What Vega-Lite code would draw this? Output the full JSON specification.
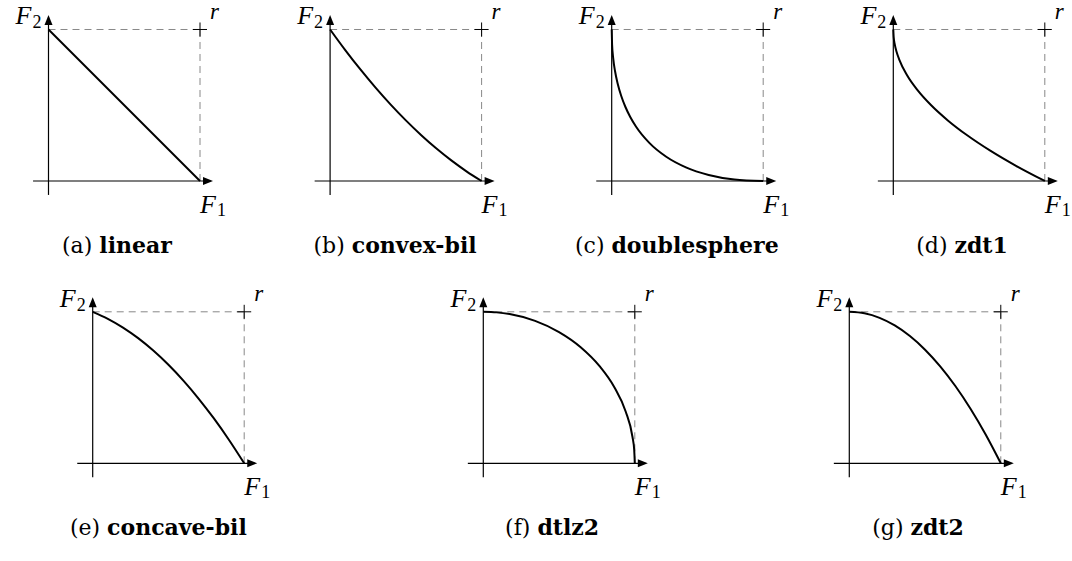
{
  "$schema": "https://vega.github.io/schema/vega-lite/v6.json",
  "padding": 0,
  "background": "white",
  "spacing": 0,
  "config": {
    "view": {"stroke": null},
    "mark": {"color": "#000000"},
    "text": {"font": "Liberation Serif", "fontSize": 26, "fontStyle": "italic", "baseline": "alphabetic", "color": "#000000"},
    "rule": {"strokeWidth": 1.2, "color": "#000000"},
    "point": {"opacity": 1}
  },
  "datasets": {
    "linear": [{"F1": 0, "F2": 1}, {"F1": 1, "F2": 0}],
    "convexbil": [{"F1": 0, "F2": 1}, {"F1": 0.1, "F2": 0.864}, {"F1": 0.2, "F2": 0.736}, {"F1": 0.3, "F2": 0.616}, {"F1": 0.4, "F2": 0.504}, {"F1": 0.5, "F2": 0.4}, {"F1": 0.6, "F2": 0.304}, {"F1": 0.7, "F2": 0.216}, {"F1": 0.8, "F2": 0.136}, {"F1": 0.9, "F2": 0.064}, {"F1": 1, "F2": 0}],
    "doublesphere": [{"F1": 0, "F2": 1}, {"F1": 0.0025, "F2": 0.9025}, {"F1": 0.01, "F2": 0.81}, {"F1": 0.0225, "F2": 0.7225}, {"F1": 0.04, "F2": 0.64}, {"F1": 0.0625, "F2": 0.5625}, {"F1": 0.09, "F2": 0.49}, {"F1": 0.1225, "F2": 0.4225}, {"F1": 0.16, "F2": 0.36}, {"F1": 0.25, "F2": 0.25}, {"F1": 0.36, "F2": 0.16}, {"F1": 0.49, "F2": 0.09}, {"F1": 0.64, "F2": 0.04}, {"F1": 0.81, "F2": 0.01}, {"F1": 1, "F2": 0}],
    "zdt1": [{"F1": 0, "F2": 1}, {"F1": 0.0025, "F2": 0.95}, {"F1": 0.01, "F2": 0.9}, {"F1": 0.0225, "F2": 0.85}, {"F1": 0.04, "F2": 0.8}, {"F1": 0.09, "F2": 0.7}, {"F1": 0.16, "F2": 0.6}, {"F1": 0.25, "F2": 0.5}, {"F1": 0.36, "F2": 0.4}, {"F1": 0.49, "F2": 0.3}, {"F1": 0.64, "F2": 0.2}, {"F1": 0.81, "F2": 0.1}, {"F1": 1, "F2": 0}],
    "concavebil": [{"F1": 0, "F2": 1}, {"F1": 0.1, "F2": 0.954}, {"F1": 0.2, "F2": 0.896}, {"F1": 0.3, "F2": 0.826}, {"F1": 0.4, "F2": 0.744}, {"F1": 0.5, "F2": 0.65}, {"F1": 0.6, "F2": 0.544}, {"F1": 0.7, "F2": 0.426}, {"F1": 0.8, "F2": 0.296}, {"F1": 0.9, "F2": 0.154}, {"F1": 1, "F2": 0}],
    "dtlz2": [{"F1": 0, "F2": 1}, {"F1": 0.0872, "F2": 0.9962}, {"F1": 0.1736, "F2": 0.9848}, {"F1": 0.342, "F2": 0.9397}, {"F1": 0.5, "F2": 0.866}, {"F1": 0.6428, "F2": 0.766}, {"F1": 0.766, "F2": 0.6428}, {"F1": 0.866, "F2": 0.5}, {"F1": 0.9397, "F2": 0.342}, {"F1": 0.9848, "F2": 0.1736}, {"F1": 0.9962, "F2": 0.0872}, {"F1": 1, "F2": 0}],
    "zdt2": [{"F1": 0, "F2": 1}, {"F1": 0.1, "F2": 0.99}, {"F1": 0.2, "F2": 0.96}, {"F1": 0.3, "F2": 0.91}, {"F1": 0.4, "F2": 0.84}, {"F1": 0.5, "F2": 0.75}, {"F1": 0.6, "F2": 0.64}, {"F1": 0.7, "F2": 0.51}, {"F1": 0.8, "F2": 0.36}, {"F1": 0.9, "F2": 0.19}, {"F1": 1, "F2": 0}]
  },
  "vconcat": [
    {
      "spacing": 59.6,
      "bounds": "flush",
      "hconcat": [
        {
          "width": 222, "height": 280,
          "data": {"values": [{}]},
          "layer": [
            {"mark": {"type": "rule", "stroke": "#888888", "strokeWidth": 1, "strokeDash": [7, 5]}, "encoding": {"x": {"datum": 0, "type": "quantitative", "scale": {"domain": [-0.3201, 1.1452], "nice": false, "zero": false}, "axis": null}, "x2": {"datum": 1}, "y": {"datum": 1, "type": "quantitative", "scale": {"domain": [-0.6535, 1.1947], "nice": false, "zero": false}, "axis": null}}},
            {"mark": {"type": "rule", "stroke": "#888888", "strokeWidth": 1, "strokeDash": [7, 5]}, "encoding": {"x": {"datum": 1}, "y": {"datum": 0}, "y2": {"datum": 1}}},
            {"mark": {"type": "rule"}, "encoding": {"x": {"datum": -0.102}, "x2": {"datum": 1.07}, "y": {"datum": 0}}},
            {"mark": {"type": "rule"}, "encoding": {"x": {"datum": 0}, "y": {"datum": -0.092}, "y2": {"datum": 1.08}}},
            {"data": {"name": "linear"}, "mark": {"type": "line", "stroke": "#000000", "strokeWidth": 2, "interpolate": "monotone"}, "encoding": {"x": {"field": "F1", "type": "quantitative"}, "y": {"field": "F2", "type": "quantitative"}}},
            {"mark": {"type": "point", "shape": "M0,0L-2,-0.8L-2,0.8Z", "size": 100, "filled": true, "fill": "#000000", "strokeWidth": 0, "opacity": 1}, "encoding": {"x": {"datum": 1.086}, "y": {"datum": 0}}},
            {"mark": {"type": "point", "shape": "M0,0L-0.8,2L0.8,2Z", "size": 100, "filled": true, "fill": "#000000", "strokeWidth": 0, "opacity": 1}, "encoding": {"x": {"datum": 0}, "y": {"datum": 1.096}}},
            {"mark": {"type": "point", "shape": "M-1,0L1,0M0,-1L0,1", "size": 196, "filled": false, "stroke": "#000000", "strokeWidth": 1, "opacity": 1}, "encoding": {"x": {"datum": 1}, "y": {"datum": 1}}},
            {"mark": {"type": "text", "text": "F", "align": "right", "dx": -17, "dy": -5}, "encoding": {"x": {"datum": 0}, "y": {"datum": 1}}},
            {"mark": {"type": "text", "text": "2", "fontStyle": "normal", "fontSize": 18, "align": "left", "dx": -16, "dy": -1}, "encoding": {"x": {"datum": 0}, "y": {"datum": 1}}},
            {"mark": {"type": "text", "text": "F", "align": "left", "dx": 0, "dy": 32}, "encoding": {"x": {"datum": 1}, "y": {"datum": 0}}},
            {"mark": {"type": "text", "text": "1", "fontStyle": "normal", "fontSize": 18, "align": "left", "dx": 17, "dy": 35}, "encoding": {"x": {"datum": 1}, "y": {"datum": 0}}},
            {"mark": {"type": "text", "text": "r", "fontSize": 23, "align": "left", "dx": 10, "dy": -10.5}, "encoding": {"x": {"datum": 1}, "y": {"datum": 1}}},
            {"mark": {"type": "text", "text": "(a)", "font": "DejaVu Serif", "fontSize": 22, "fontStyle": "normal", "align": "right", "dx": -26.2}, "encoding": {"x": {"datum": 0.462}, "y": {"datum": -0.475}}},
            {"mark": {"type": "text", "text": "linear", "font": "DejaVu Serif", "fontSize": 22, "fontStyle": "normal", "fontWeight": "bold", "align": "left", "dx": -19.2}, "encoding": {"x": {"datum": 0.462}, "y": {"datum": -0.475}}}
          ]
        },
        {
          "width": 222, "height": 280,
          "data": {"values": [{}]},
          "layer": [
            {"mark": {"type": "rule", "stroke": "#888888", "strokeWidth": 1, "strokeDash": [7, 5]}, "encoding": {"x": {"datum": 0, "type": "quantitative", "scale": {"domain": [-0.3201, 1.1452], "nice": false, "zero": false}, "axis": null}, "x2": {"datum": 1}, "y": {"datum": 1, "type": "quantitative", "scale": {"domain": [-0.6535, 1.1947], "nice": false, "zero": false}, "axis": null}}},
            {"mark": {"type": "rule", "stroke": "#888888", "strokeWidth": 1, "strokeDash": [7, 5]}, "encoding": {"x": {"datum": 1}, "y": {"datum": 0}, "y2": {"datum": 1}}},
            {"mark": {"type": "rule"}, "encoding": {"x": {"datum": -0.102}, "x2": {"datum": 1.07}, "y": {"datum": 0}}},
            {"mark": {"type": "rule"}, "encoding": {"x": {"datum": 0}, "y": {"datum": -0.092}, "y2": {"datum": 1.08}}},
            {"data": {"name": "convexbil"}, "mark": {"type": "line", "stroke": "#000000", "strokeWidth": 2, "interpolate": "monotone"}, "encoding": {"x": {"field": "F1", "type": "quantitative"}, "y": {"field": "F2", "type": "quantitative"}}},
            {"mark": {"type": "point", "shape": "M0,0L-2,-0.8L-2,0.8Z", "size": 100, "filled": true, "fill": "#000000", "strokeWidth": 0, "opacity": 1}, "encoding": {"x": {"datum": 1.086}, "y": {"datum": 0}}},
            {"mark": {"type": "point", "shape": "M0,0L-0.8,2L0.8,2Z", "size": 100, "filled": true, "fill": "#000000", "strokeWidth": 0, "opacity": 1}, "encoding": {"x": {"datum": 0}, "y": {"datum": 1.096}}},
            {"mark": {"type": "point", "shape": "M-1,0L1,0M0,-1L0,1", "size": 196, "filled": false, "stroke": "#000000", "strokeWidth": 1, "opacity": 1}, "encoding": {"x": {"datum": 1}, "y": {"datum": 1}}},
            {"mark": {"type": "text", "text": "F", "align": "right", "dx": -17, "dy": -5}, "encoding": {"x": {"datum": 0}, "y": {"datum": 1}}},
            {"mark": {"type": "text", "text": "2", "fontStyle": "normal", "fontSize": 18, "align": "left", "dx": -16, "dy": -1}, "encoding": {"x": {"datum": 0}, "y": {"datum": 1}}},
            {"mark": {"type": "text", "text": "F", "align": "left", "dx": 0, "dy": 32}, "encoding": {"x": {"datum": 1}, "y": {"datum": 0}}},
            {"mark": {"type": "text", "text": "1", "fontStyle": "normal", "fontSize": 18, "align": "left", "dx": 17, "dy": 35}, "encoding": {"x": {"datum": 1}, "y": {"datum": 0}}},
            {"mark": {"type": "text", "text": "r", "fontSize": 23, "align": "left", "dx": 10, "dy": -10.5}, "encoding": {"x": {"datum": 1}, "y": {"datum": 1}}},
            {"mark": {"type": "text", "text": "(b)", "font": "DejaVu Serif", "fontSize": 22, "fontStyle": "normal", "align": "right", "dx": -55.3}, "encoding": {"x": {"datum": 0.462}, "y": {"datum": -0.475}}},
            {"mark": {"type": "text", "text": "convex-bil", "font": "DejaVu Serif", "fontSize": 22, "fontStyle": "normal", "fontWeight": "bold", "align": "left", "dx": -48.3}, "encoding": {"x": {"datum": 0.462}, "y": {"datum": -0.475}}}
          ]
        },
        {
          "width": 222, "height": 280,
          "data": {"values": [{}]},
          "layer": [
            {"mark": {"type": "rule", "stroke": "#888888", "strokeWidth": 1, "strokeDash": [7, 5]}, "encoding": {"x": {"datum": 0, "type": "quantitative", "scale": {"domain": [-0.3201, 1.1452], "nice": false, "zero": false}, "axis": null}, "x2": {"datum": 1}, "y": {"datum": 1, "type": "quantitative", "scale": {"domain": [-0.6535, 1.1947], "nice": false, "zero": false}, "axis": null}}},
            {"mark": {"type": "rule", "stroke": "#888888", "strokeWidth": 1, "strokeDash": [7, 5]}, "encoding": {"x": {"datum": 1}, "y": {"datum": 0}, "y2": {"datum": 1}}},
            {"mark": {"type": "rule"}, "encoding": {"x": {"datum": -0.102}, "x2": {"datum": 1.07}, "y": {"datum": 0}}},
            {"mark": {"type": "rule"}, "encoding": {"x": {"datum": 0}, "y": {"datum": -0.092}, "y2": {"datum": 1.08}}},
            {"data": {"name": "doublesphere"}, "mark": {"type": "line", "stroke": "#000000", "strokeWidth": 2, "interpolate": "monotone"}, "encoding": {"x": {"field": "F1", "type": "quantitative"}, "y": {"field": "F2", "type": "quantitative"}}},
            {"mark": {"type": "point", "shape": "M0,0L-2,-0.8L-2,0.8Z", "size": 100, "filled": true, "fill": "#000000", "strokeWidth": 0, "opacity": 1}, "encoding": {"x": {"datum": 1.086}, "y": {"datum": 0}}},
            {"mark": {"type": "point", "shape": "M0,0L-0.8,2L0.8,2Z", "size": 100, "filled": true, "fill": "#000000", "strokeWidth": 0, "opacity": 1}, "encoding": {"x": {"datum": 0}, "y": {"datum": 1.096}}},
            {"mark": {"type": "point", "shape": "M-1,0L1,0M0,-1L0,1", "size": 196, "filled": false, "stroke": "#000000", "strokeWidth": 1, "opacity": 1}, "encoding": {"x": {"datum": 1}, "y": {"datum": 1}}},
            {"mark": {"type": "text", "text": "F", "align": "right", "dx": -17, "dy": -5}, "encoding": {"x": {"datum": 0}, "y": {"datum": 1}}},
            {"mark": {"type": "text", "text": "2", "fontStyle": "normal", "fontSize": 18, "align": "left", "dx": -16, "dy": -1}, "encoding": {"x": {"datum": 0}, "y": {"datum": 1}}},
            {"mark": {"type": "text", "text": "F", "align": "left", "dx": 0, "dy": 32}, "encoding": {"x": {"datum": 1}, "y": {"datum": 0}}},
            {"mark": {"type": "text", "text": "1", "fontStyle": "normal", "fontSize": 18, "align": "left", "dx": 17, "dy": 35}, "encoding": {"x": {"datum": 1}, "y": {"datum": 0}}},
            {"mark": {"type": "text", "text": "r", "fontSize": 23, "align": "left", "dx": 10, "dy": -10.5}, "encoding": {"x": {"datum": 1}, "y": {"datum": 1}}},
            {"mark": {"type": "text", "text": "(c)", "font": "DejaVu Serif", "fontSize": 22, "fontStyle": "normal", "align": "right", "dx": -77.2}, "encoding": {"x": {"datum": 0.462}, "y": {"datum": -0.475}}},
            {"mark": {"type": "text", "text": "doublesphere", "font": "DejaVu Serif", "fontSize": 22, "fontStyle": "normal", "fontWeight": "bold", "align": "left", "dx": -70.2}, "encoding": {"x": {"datum": 0.462}, "y": {"datum": -0.475}}}
          ]
        },
        {
          "width": 222, "height": 280,
          "data": {"values": [{}]},
          "layer": [
            {"mark": {"type": "rule", "stroke": "#888888", "strokeWidth": 1, "strokeDash": [7, 5]}, "encoding": {"x": {"datum": 0, "type": "quantitative", "scale": {"domain": [-0.3201, 1.1452], "nice": false, "zero": false}, "axis": null}, "x2": {"datum": 1}, "y": {"datum": 1, "type": "quantitative", "scale": {"domain": [-0.6535, 1.1947], "nice": false, "zero": false}, "axis": null}}},
            {"mark": {"type": "rule", "stroke": "#888888", "strokeWidth": 1, "strokeDash": [7, 5]}, "encoding": {"x": {"datum": 1}, "y": {"datum": 0}, "y2": {"datum": 1}}},
            {"mark": {"type": "rule"}, "encoding": {"x": {"datum": -0.102}, "x2": {"datum": 1.07}, "y": {"datum": 0}}},
            {"mark": {"type": "rule"}, "encoding": {"x": {"datum": 0}, "y": {"datum": -0.092}, "y2": {"datum": 1.08}}},
            {"data": {"name": "zdt1"}, "mark": {"type": "line", "stroke": "#000000", "strokeWidth": 2, "interpolate": "monotone"}, "encoding": {"x": {"field": "F1", "type": "quantitative"}, "y": {"field": "F2", "type": "quantitative"}}},
            {"mark": {"type": "point", "shape": "M0,0L-2,-0.8L-2,0.8Z", "size": 100, "filled": true, "fill": "#000000", "strokeWidth": 0, "opacity": 1}, "encoding": {"x": {"datum": 1.086}, "y": {"datum": 0}}},
            {"mark": {"type": "point", "shape": "M0,0L-0.8,2L0.8,2Z", "size": 100, "filled": true, "fill": "#000000", "strokeWidth": 0, "opacity": 1}, "encoding": {"x": {"datum": 0}, "y": {"datum": 1.096}}},
            {"mark": {"type": "point", "shape": "M-1,0L1,0M0,-1L0,1", "size": 196, "filled": false, "stroke": "#000000", "strokeWidth": 1, "opacity": 1}, "encoding": {"x": {"datum": 1}, "y": {"datum": 1}}},
            {"mark": {"type": "text", "text": "F", "align": "right", "dx": -17, "dy": -5}, "encoding": {"x": {"datum": 0}, "y": {"datum": 1}}},
            {"mark": {"type": "text", "text": "2", "fontStyle": "normal", "fontSize": 18, "align": "left", "dx": -16, "dy": -1}, "encoding": {"x": {"datum": 0}, "y": {"datum": 1}}},
            {"mark": {"type": "text", "text": "F", "align": "left", "dx": 0, "dy": 32}, "encoding": {"x": {"datum": 1}, "y": {"datum": 0}}},
            {"mark": {"type": "text", "text": "1", "fontStyle": "normal", "fontSize": 18, "align": "left", "dx": 17, "dy": 35}, "encoding": {"x": {"datum": 1}, "y": {"datum": 0}}},
            {"mark": {"type": "text", "text": "r", "fontSize": 23, "align": "left", "dx": 10, "dy": -10.5}, "encoding": {"x": {"datum": 1}, "y": {"datum": 1}}},
            {"mark": {"type": "text", "text": "(d)", "font": "DejaVu Serif", "fontSize": 22, "fontStyle": "normal", "align": "right", "dx": -15.8}, "encoding": {"x": {"datum": 0.462}, "y": {"datum": -0.475}}},
            {"mark": {"type": "text", "text": "zdt1", "font": "DejaVu Serif", "fontSize": 22, "fontStyle": "normal", "fontWeight": "bold", "align": "left", "dx": -8.8}, "encoding": {"x": {"datum": 0.462}, "y": {"datum": -0.475}}}
          ]
        }
      ]
    },
    {
      "spacing": 0,
      "bounds": "flush",
      "hconcat": [
        {
          "width": 380, "height": 281,
          "data": {"values": [{}]},
          "layer": [
            {"mark": {"type": "rule", "stroke": "#888888", "strokeWidth": 1, "strokeDash": [7, 5]}, "encoding": {"x": {"datum": 0, "type": "quantitative", "scale": {"domain": [-0.6119, 1.8964], "nice": false, "zero": false}, "axis": null}, "x2": {"datum": 1}, "y": {"datum": 1, "type": "quantitative", "scale": {"domain": [-0.6449, 1.2099], "nice": false, "zero": false}, "axis": null}}},
            {"mark": {"type": "rule", "stroke": "#888888", "strokeWidth": 1, "strokeDash": [7, 5]}, "encoding": {"x": {"datum": 1}, "y": {"datum": 0}, "y2": {"datum": 1}}},
            {"mark": {"type": "rule"}, "encoding": {"x": {"datum": -0.102}, "x2": {"datum": 1.07}, "y": {"datum": 0}}},
            {"mark": {"type": "rule"}, "encoding": {"x": {"datum": 0}, "y": {"datum": -0.092}, "y2": {"datum": 1.08}}},
            {"data": {"name": "concavebil"}, "mark": {"type": "line", "stroke": "#000000", "strokeWidth": 2, "interpolate": "monotone"}, "encoding": {"x": {"field": "F1", "type": "quantitative"}, "y": {"field": "F2", "type": "quantitative"}}},
            {"mark": {"type": "point", "shape": "M0,0L-2,-0.8L-2,0.8Z", "size": 100, "filled": true, "fill": "#000000", "strokeWidth": 0, "opacity": 1}, "encoding": {"x": {"datum": 1.086}, "y": {"datum": 0}}},
            {"mark": {"type": "point", "shape": "M0,0L-0.8,2L0.8,2Z", "size": 100, "filled": true, "fill": "#000000", "strokeWidth": 0, "opacity": 1}, "encoding": {"x": {"datum": 0}, "y": {"datum": 1.096}}},
            {"mark": {"type": "point", "shape": "M-1,0L1,0M0,-1L0,1", "size": 196, "filled": false, "stroke": "#000000", "strokeWidth": 1, "opacity": 1}, "encoding": {"x": {"datum": 1}, "y": {"datum": 1}}},
            {"mark": {"type": "text", "text": "F", "align": "right", "dx": -17, "dy": -5}, "encoding": {"x": {"datum": 0}, "y": {"datum": 1}}},
            {"mark": {"type": "text", "text": "2", "fontStyle": "normal", "fontSize": 18, "align": "left", "dx": -16, "dy": -1}, "encoding": {"x": {"datum": 0}, "y": {"datum": 1}}},
            {"mark": {"type": "text", "text": "F", "align": "left", "dx": 0, "dy": 32}, "encoding": {"x": {"datum": 1}, "y": {"datum": 0}}},
            {"mark": {"type": "text", "text": "1", "fontStyle": "normal", "fontSize": 18, "align": "left", "dx": 17, "dy": 35}, "encoding": {"x": {"datum": 1}, "y": {"datum": 0}}},
            {"mark": {"type": "text", "text": "r", "fontSize": 23, "align": "left", "dx": 10, "dy": -10.5}, "encoding": {"x": {"datum": 1}, "y": {"datum": 1}}},
            {"mark": {"type": "text", "text": "(e)", "font": "DejaVu Serif", "fontSize": 22, "fontStyle": "normal", "align": "right", "dx": -62.6}, "encoding": {"x": {"datum": 0.462}, "y": {"datum": -0.475}}},
            {"mark": {"type": "text", "text": "concave-bil", "font": "DejaVu Serif", "fontSize": 22, "fontStyle": "normal", "fontWeight": "bold", "align": "left", "dx": -55.6}, "encoding": {"x": {"datum": 0.462}, "y": {"datum": -0.475}}}
          ]
        },
        {
          "width": 380, "height": 281,
          "data": {"values": [{}]},
          "layer": [
            {"mark": {"type": "rule", "stroke": "#888888", "strokeWidth": 1, "strokeDash": [7, 5]}, "encoding": {"x": {"datum": 0, "type": "quantitative", "scale": {"domain": [-0.6818, 1.8264], "nice": false, "zero": false}, "axis": null}, "x2": {"datum": 1}, "y": {"datum": 1, "type": "quantitative", "scale": {"domain": [-0.6449, 1.2099], "nice": false, "zero": false}, "axis": null}}},
            {"mark": {"type": "rule", "stroke": "#888888", "strokeWidth": 1, "strokeDash": [7, 5]}, "encoding": {"x": {"datum": 1}, "y": {"datum": 0}, "y2": {"datum": 1}}},
            {"mark": {"type": "rule"}, "encoding": {"x": {"datum": -0.102}, "x2": {"datum": 1.07}, "y": {"datum": 0}}},
            {"mark": {"type": "rule"}, "encoding": {"x": {"datum": 0}, "y": {"datum": -0.092}, "y2": {"datum": 1.08}}},
            {"data": {"name": "dtlz2"}, "mark": {"type": "line", "stroke": "#000000", "strokeWidth": 2, "interpolate": "monotone"}, "encoding": {"x": {"field": "F1", "type": "quantitative"}, "y": {"field": "F2", "type": "quantitative"}}},
            {"mark": {"type": "point", "shape": "M0,0L-2,-0.8L-2,0.8Z", "size": 100, "filled": true, "fill": "#000000", "strokeWidth": 0, "opacity": 1}, "encoding": {"x": {"datum": 1.086}, "y": {"datum": 0}}},
            {"mark": {"type": "point", "shape": "M0,0L-0.8,2L0.8,2Z", "size": 100, "filled": true, "fill": "#000000", "strokeWidth": 0, "opacity": 1}, "encoding": {"x": {"datum": 0}, "y": {"datum": 1.096}}},
            {"mark": {"type": "point", "shape": "M-1,0L1,0M0,-1L0,1", "size": 196, "filled": false, "stroke": "#000000", "strokeWidth": 1, "opacity": 1}, "encoding": {"x": {"datum": 1}, "y": {"datum": 1}}},
            {"mark": {"type": "text", "text": "F", "align": "right", "dx": -17, "dy": -5}, "encoding": {"x": {"datum": 0}, "y": {"datum": 1}}},
            {"mark": {"type": "text", "text": "2", "fontStyle": "normal", "fontSize": 18, "align": "left", "dx": -16, "dy": -1}, "encoding": {"x": {"datum": 0}, "y": {"datum": 1}}},
            {"mark": {"type": "text", "text": "F", "align": "left", "dx": 0, "dy": 32}, "encoding": {"x": {"datum": 1}, "y": {"datum": 0}}},
            {"mark": {"type": "text", "text": "1", "fontStyle": "normal", "fontSize": 18, "align": "left", "dx": 17, "dy": 35}, "encoding": {"x": {"datum": 1}, "y": {"datum": 0}}},
            {"mark": {"type": "text", "text": "r", "fontSize": 23, "align": "left", "dx": 10, "dy": -10.5}, "encoding": {"x": {"datum": 1}, "y": {"datum": 1}}},
            {"mark": {"type": "text", "text": "(f)", "font": "DejaVu Serif", "fontSize": 22, "fontStyle": "normal", "align": "right", "dx": -22.9}, "encoding": {"x": {"datum": 0.462}, "y": {"datum": -0.475}}},
            {"mark": {"type": "text", "text": "dtlz2", "font": "DejaVu Serif", "fontSize": 22, "fontStyle": "normal", "fontWeight": "bold", "align": "left", "dx": -15.9}, "encoding": {"x": {"datum": 0.462}, "y": {"datum": -0.475}}}
          ]
        },
        {
          "width": 312, "height": 281,
          "data": {"values": [{}]},
          "layer": [
            {"mark": {"type": "rule", "stroke": "#888888", "strokeWidth": 1, "strokeDash": [7, 5]}, "encoding": {"x": {"datum": 0, "type": "quantitative", "scale": {"domain": [-0.5894, 1.47], "nice": false, "zero": false}, "axis": null}, "x2": {"datum": 1}, "y": {"datum": 1, "type": "quantitative", "scale": {"domain": [-0.6449, 1.2099], "nice": false, "zero": false}, "axis": null}}},
            {"mark": {"type": "rule", "stroke": "#888888", "strokeWidth": 1, "strokeDash": [7, 5]}, "encoding": {"x": {"datum": 1}, "y": {"datum": 0}, "y2": {"datum": 1}}},
            {"mark": {"type": "rule"}, "encoding": {"x": {"datum": -0.102}, "x2": {"datum": 1.07}, "y": {"datum": 0}}},
            {"mark": {"type": "rule"}, "encoding": {"x": {"datum": 0}, "y": {"datum": -0.092}, "y2": {"datum": 1.08}}},
            {"data": {"name": "zdt2"}, "mark": {"type": "line", "stroke": "#000000", "strokeWidth": 2, "interpolate": "monotone"}, "encoding": {"x": {"field": "F1", "type": "quantitative"}, "y": {"field": "F2", "type": "quantitative"}}},
            {"mark": {"type": "point", "shape": "M0,0L-2,-0.8L-2,0.8Z", "size": 100, "filled": true, "fill": "#000000", "strokeWidth": 0, "opacity": 1}, "encoding": {"x": {"datum": 1.086}, "y": {"datum": 0}}},
            {"mark": {"type": "point", "shape": "M0,0L-0.8,2L0.8,2Z", "size": 100, "filled": true, "fill": "#000000", "strokeWidth": 0, "opacity": 1}, "encoding": {"x": {"datum": 0}, "y": {"datum": 1.096}}},
            {"mark": {"type": "point", "shape": "M-1,0L1,0M0,-1L0,1", "size": 196, "filled": false, "stroke": "#000000", "strokeWidth": 1, "opacity": 1}, "encoding": {"x": {"datum": 1}, "y": {"datum": 1}}},
            {"mark": {"type": "text", "text": "F", "align": "right", "dx": -17, "dy": -5}, "encoding": {"x": {"datum": 0}, "y": {"datum": 1}}},
            {"mark": {"type": "text", "text": "2", "fontStyle": "normal", "fontSize": 18, "align": "left", "dx": -16, "dy": -1}, "encoding": {"x": {"datum": 0}, "y": {"datum": 1}}},
            {"mark": {"type": "text", "text": "F", "align": "left", "dx": 0, "dy": 32}, "encoding": {"x": {"datum": 1}, "y": {"datum": 0}}},
            {"mark": {"type": "text", "text": "1", "fontStyle": "normal", "fontSize": 18, "align": "left", "dx": 17, "dy": 35}, "encoding": {"x": {"datum": 1}, "y": {"datum": 0}}},
            {"mark": {"type": "text", "text": "r", "fontSize": 23, "align": "left", "dx": 10, "dy": -10.5}, "encoding": {"x": {"datum": 1}, "y": {"datum": 1}}},
            {"mark": {"type": "text", "text": "(g)", "font": "DejaVu Serif", "fontSize": 22, "fontStyle": "normal", "align": "right", "dx": -15.8}, "encoding": {"x": {"datum": 0.462}, "y": {"datum": -0.475}}},
            {"mark": {"type": "text", "text": "zdt2", "font": "DejaVu Serif", "fontSize": 22, "fontStyle": "normal", "fontWeight": "bold", "align": "left", "dx": -8.8}, "encoding": {"x": {"datum": 0.462}, "y": {"datum": -0.475}}}
          ]
        }
      ]
    }
  ]
}
